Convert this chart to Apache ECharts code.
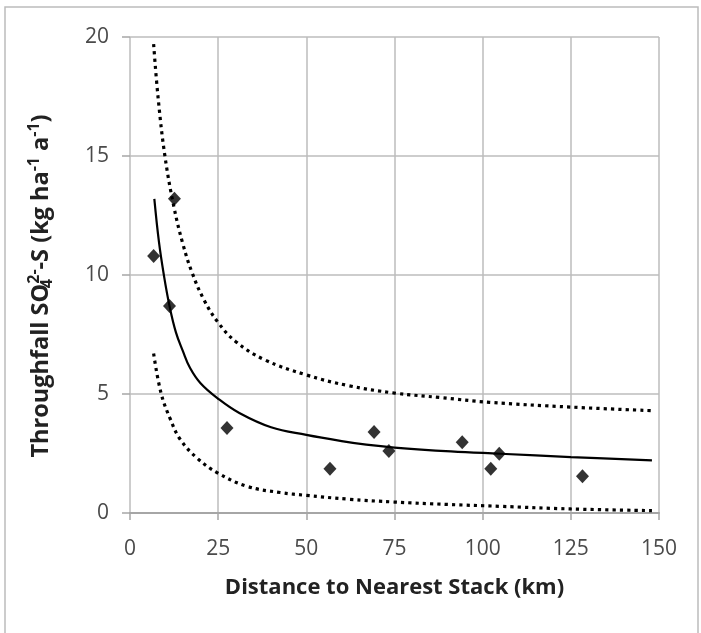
<!DOCTYPE html>
<html><head><meta charset="utf-8">
<script src="https://cdn.jsdelivr.net/npm/echarts@6/dist/echarts.min.js"></script>
<style>html,body{margin:0;padding:0;background:#fff}#c{width:701px;height:633px}</style>
</head><body><div id="c"></div>
<script>
// Observed points: [distance km, throughfall SO4-S]
const observed = [[6.7,10.8],[12.6,13.2],[11.2,8.7],[27.5,3.57],[56.7,1.86],[69.2,3.40],[73.4,2.6],[94.2,2.97],[102.3,1.86],[104.7,2.49],[128.3,1.54]];
// Fitted curve
const fitLine = [[6.9,13.2],[8.2,11.4],[9.6,10.0],[11.2,8.7],[13,7.6],[15,6.8],[17,6.1],[20,5.45],[25,4.8],[31,4.2],[40,3.6],[50,3.28],[60,3.02],[67,2.87],[75,2.75],[91,2.59],[105,2.49],[125,2.35],[148,2.21]];
// Upper prediction band
const upperBand = [[6.7,19.7],[8,17.4],[9.9,15.0],[12.4,12.9],[15,11.3],[17.6,10.1],[21,8.95],[25,8.0],[30,7.2],[38,6.45],[50,5.8],[62,5.35],[75,5.04],[88,4.85],[102,4.65],[125,4.45],[148,4.3]];
// Lower prediction band
const lowerBand = [[6.7,6.7],[8.8,5.04],[11.5,3.92],[14.3,3.08],[19,2.31],[24.9,1.68],[33.2,1.12],[42.6,0.86],[50,0.74],[62,0.58],[75,0.46],[90,0.36],[105,0.28],[125,0.17],[148,0.1]];
const xTicks = {min:0, max:150, step:25};
const yTicks = {min:0, max:20, step:5};
const xTitle = 'Distance to Nearest Stack (km)';
const yTitle = 'Throughfall SO{sub|4}{sup|2-}-S (kg ha{sup|-1} a{sup|-1})';

const chart = echarts.init(document.getElementById('c'));
const lab = {color:'#4a4a4a', fontSize:21, fontFamily:'Open Sans'};
const gridLine = {color:'#bdbdbd', width:1.5};
const titleFont = {fill:'#222', fontSize:23.5, fontWeight:'bold', fontFamily:'Open Sans'};
chart.setOption({
  animation:false,
  graphic:[
    {type:'rect', shape:{x:5,y:7,width:693,height:640}, style:{fill:'none', stroke:'#bcbcbc', lineWidth:1.5}, z:-1},
    {type:'text', x:41, y:286, rotation:Math.PI/2,
      style:Object.assign({text:yTitle, align:'center', verticalAlign:'middle', lineHeight:36,
        rich:{
          sub:{fontSize:16, fontWeight:'bold', fontFamily:'Open Sans', fill:'#222', lineHeight:36, padding:[13,0,0,0], width:0.01},
          sup:{fontSize:16, fontWeight:'bold', fontFamily:'Open Sans', fill:'#222', lineHeight:36, padding:[0,0,13,0]}
        }}, titleFont)}
  ],
  grid:{left:130, right:42, top:37, bottom:120},
  xAxis:{type:'value', min:xTicks.min, max:xTicks.max, interval:xTicks.step,
    axisLine:{show:true, lineStyle:{color:'#a6a6a6', width:2}},
    axisTick:{show:true, length:7, lineStyle:{color:'#a6a6a6', width:1.5}},
    axisLabel:Object.assign({margin:26}, lab),
    splitLine:{show:true, lineStyle:gridLine},
    name:xTitle, nameLocation:'middle', nameGap:64,
    nameTextStyle:{color:'#222', fontSize:22, fontWeight:'bold', fontFamily:'Open Sans'}},
  yAxis:{type:'value', min:yTicks.min, max:yTicks.max, interval:yTicks.step,
    axisLine:{show:false},
    axisTick:{show:true, length:8, lineStyle:{color:'#a6a6a6', width:1.5}},
    axisLabel:Object.assign({margin:21}, lab),
    splitLine:{show:true, lineStyle:gridLine}},
  series:[
    {type:'line', data:upperBand, smooth:0.4, showSymbol:false, symbol:'none', lineStyle:{color:'#000', width:3.2, type:[3.2,4.1], cap:'butt'}, z:3},
    {type:'line', data:lowerBand, smooth:0.4, showSymbol:false, symbol:'none', lineStyle:{color:'#000', width:3.2, type:[3.2,4.1], cap:'butt'}, z:3},
    {type:'line', data:fitLine, smooth:0.4, showSymbol:false, symbol:'none', lineStyle:{color:'#000', width:2.2}, z:4},
    {type:'scatter', data:observed, symbol:'diamond', symbolSize:[13,14], itemStyle:{color:'#000'}, z:5}
  ]
});
</script></body></html>
